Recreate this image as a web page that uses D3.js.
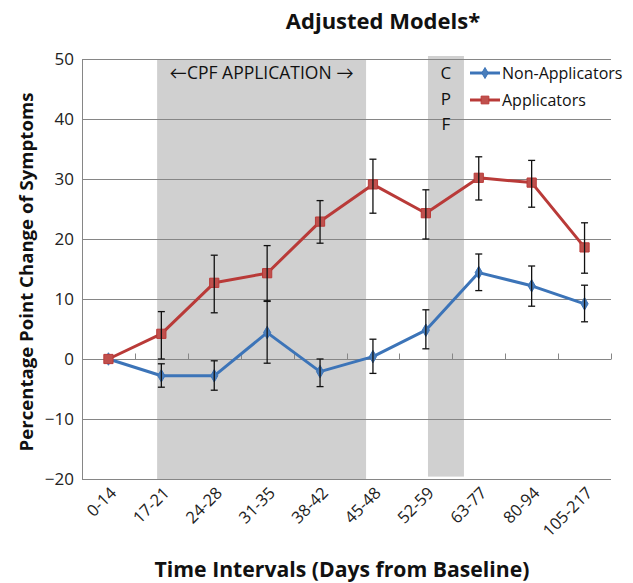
<!DOCTYPE html>
<html>
<head>
<meta charset="utf-8">
<script src="https://cdn.jsdelivr.net/npm/d3@7"></script>
<style>
  body { margin: 0; background: #fff; }
  text { font-family: "Open Sans", Lato, sans-serif; }
</style>
</head>
<body>
<div id="chart"></div>
<script>

var categories = ["0-14","17-21","24-28","31-35","38-42","45-48","52-59","63-77","80-94","105-217"];

var nonApplicators      = [0, -2.8, -2.8, 4.4, -2.1, 0.4, 4.8, 14.4, 12.2, 9.2];
var nonApplicatorsLow   = [0, -4.7, -5.2, -0.7, -4.6, -2.4, 1.7, 11.4, 8.8, 6.2];
var nonApplicatorsHigh  = [0, -0.8, -0.3, 9.7, 0.0, 3.3, 8.2, 17.5, 15.5, 12.3];

var applicators         = [0, 4.2, 12.7, 14.3, 22.9, 29.1, 24.3, 30.2, 29.4, 18.6];
var applicatorsLow      = [0, 0.0, 7.7, 9.6, 19.3, 24.3, 20.0, 26.5, 25.3, 14.3];
var applicatorsHigh     = [0, 7.9, 17.3, 18.9, 26.4, 33.3, 28.2, 33.7, 33.1, 22.7];

var yTicks = [-20, -10, 0, 10, 20, 30, 40, 50];

// shaded periods, in category units (0 = left edge of first interval)
var shadeFrom = [1.42, 6.54];
var shadeTo   = [5.37, 7.22];
var shadeTop  = [50, 50.5];
var shadeBot  = [-20, -19.6];

var svg = d3.select("#chart")
  .append("svg")
  .attr("width", 633)
  .attr("height", 583);

var margin = {top: 59, right: 22, bottom: 104, left: 82},
    width = 633 - margin.left - margin.right,
    height = 583 - margin.top - margin.bottom;

var x = d3.scaleBand()
    .domain(categories)
    .range([0, width]);

var xi = d3.scaleLinear()
    .domain([0, categories.length])
    .range([0, width]);

var y = d3.scaleLinear()
    .domain([-20, 50])
    .range([height, 0]);

var g = svg.append("g")
    .attr("transform", "translate(" + margin.left + "," + margin.top + ")");

var cx = function(i) { return x(categories[i]) + x.bandwidth() / 2; };

// shaded bands
g.selectAll(".shade")
    .data(shadeFrom)
  .enter().append("rect")
    .attr("class", "shade")
    .attr("x", function(d) { return xi(d); })
    .attr("width", function(d, i) { return xi(shadeTo[i]) - xi(d); })
    .attr("y", function(d, i) { return y(shadeTop[i]); })
    .attr("height", function(d, i) { return y(shadeBot[i]) - y(shadeTop[i]); })
    .style("fill", "#d0d0d0");

// gridlines
g.selectAll(".grid")
    .data(yTicks)
  .enter().append("line")
    .attr("class", "grid")
    .attr("x1", 0)
    .attr("x2", width)
    .attr("y1", function(d) { return y(d) + 0.5; })
    .attr("y2", function(d) { return y(d) + 0.5; })
    .style("stroke", "#868686")
    .style("stroke-width", 1);

// y axis
var yAxis = g.append("g")
    .attr("class", "axis axis--y")
    .call(d3.axisLeft(y).tickValues(yTicks).tickSize(0).tickPadding(8));
yAxis.select(".domain").style("stroke", "#868686").attr("d", "M0.5," + y(-20) + "V" + y(50));
yAxis.selectAll("text")
    .style("font-family", "'Open Sans', sans-serif")
    .style("font-size", "17px")
    .style("fill", "#222");

// x axis line at zero with upward ticks
var xAxis = g.append("g")
    .attr("class", "axis axis--x")
    .attr("transform", "translate(0," + (y(0) + 0.5) + ")");
xAxis.append("line")
    .attr("x1", 0).attr("x2", width)
    .style("stroke", "#868686");
xAxis.selectAll(".tick")
    .data(d3.range(1, categories.length + 1))
  .enter().append("line")
    .attr("x1", function(d) { return Math.round(xi(d)) + 0.5; })
    .attr("x2", function(d) { return Math.round(xi(d)) + 0.5; })
    .attr("y1", 0).attr("y2", -6)
    .style("stroke", "#868686");

// category labels at the bottom
g.selectAll(".xlabel")
    .data(categories)
  .enter().append("text")
    .attr("class", "xlabel")
    .attr("transform", function(d, i) { return "translate(" + (cx(i) + 9) + "," + (height + 15) + ") rotate(-45)"; })
    .style("text-anchor", "end")
    .style("font-size", "16.5px")
    .style("fill", "#222")
    .text(function(d) { return d; });

// series
var series = [
  {name: "Non-Applicators", values: nonApplicators, low: nonApplicatorsLow, high: nonApplicatorsHigh, color: "#3c74b8", marker: "diamond"},
  {name: "Applicators", values: applicators, low: applicatorsLow, high: applicatorsHigh, color: "#b93a38", marker: "square"}
];

var line = d3.line()
    .x(function(d, i) { return cx(i); })
    .y(function(d) { return y(d); });

series.forEach(function(s) {
  g.append("path")
      .datum(s.values)
      .attr("d", line)
      .style("fill", "none")
      .style("stroke", s.color)
      .style("stroke-width", 3)
      .style("stroke-linejoin", "round");
});

// markers
series.forEach(function(s) {
  var sym = s.marker == "square" ? d3.symbolSquare : d3.symbolDiamond;
  g.selectAll(".m-" + s.marker)
      .data(s.values)
    .enter().append("path")
      .attr("transform", function(d, i) { return "translate(" + cx(i) + "," + y(d) + ")"; })
      .attr("d", d3.symbol().type(sym).size(s.marker == "square" ? 85 : 45))
      .style("fill", s.marker == "square" ? "#c0504d" : "#4a7ebb")
      .style("stroke", s.color)
      .style("stroke-width", 1);
});

// error bars
series.forEach(function(s) {
  var eb = g.selectAll(".eb-" + s.marker)
      .data(s.values.map(function(v, i) { return i; }).filter(function(i) { return i > 0; }))
    .enter().append("g");
  eb.append("line")
      .attr("x1", function(i) { return cx(i); })
      .attr("x2", function(i) { return cx(i); })
      .attr("y1", function(i) { return y(s.low[i]); })
      .attr("y2", function(i) { return y(s.high[i]); });
  eb.append("line")
      .attr("x1", function(i) { return cx(i) - 3.5; })
      .attr("x2", function(i) { return cx(i) + 3.5; })
      .attr("y1", function(i) { return y(s.low[i]); })
      .attr("y2", function(i) { return y(s.low[i]); });
  eb.append("line")
      .attr("x1", function(i) { return cx(i) - 3.5; })
      .attr("x2", function(i) { return cx(i) + 3.5; })
      .attr("y1", function(i) { return y(s.high[i]); })
      .attr("y2", function(i) { return y(s.high[i]); });
  eb.selectAll("line")
      .style("stroke", "#111")
      .style("stroke-width", 1.3);
});

// band annotations
g.append("text")
    .attr("x", (xi(shadeFrom[0]) + xi(shadeTo[0])) / 2)
    .attr("y", y(46.6))
    .style("text-anchor", "middle")
    .style("font-size", "17.5px")
    .style("fill", "#111")
    .text("\u2190CPF APPLICATION \u2192");

g.selectAll(".cpf")
    .data(["C", "P", "F"])
  .enter().append("text")
    .attr("x", (xi(shadeFrom[1]) + xi(shadeTo[1])) / 2)
    .attr("y", function(d, i) { return y(46.6 - i * 4.2); })
    .style("text-anchor", "middle")
    .style("font-size", "17px")
    .style("fill", "#111")
    .text(function(d) { return d; });

// legend
var legend = svg.selectAll(".legend")
    .data(series)
  .enter().append("g")
    .attr("class", "legend")
    .attr("transform", function(d, i) { return "translate(470," + (73 + i * 27) + ")"; });

legend.append("line")
    .attr("x1", 0).attr("x2", 30)
    .style("stroke", function(d) { return d.color; })
    .style("stroke-width", 3);

legend.append("path")
    .attr("transform", "translate(15,0)")
    .attr("d", function(d) { return d3.symbol().type(d.marker == "square" ? d3.symbolSquare : d3.symbolDiamond).size(d.marker == "square" ? 60 : 35)(); })
    .style("fill", function(d) { return d.marker == "square" ? "#c0504d" : "#4a7ebb"; })
    .style("stroke", function(d) { return d.color; });

legend.append("text")
    .attr("x", 32)
    .attr("dy", "0.35em")
    .style("font-size", "16px")
    .style("fill", "#111")
    .text(function(d) { return d.name; });

// titles
svg.append("text")
    .attr("x", 383)
    .attr("y", 29)
    .style("text-anchor", "middle")
    .style("font-size", "22px")
    .style("font-weight", "bold")
    .style("fill", "#111")
    .text("Adjusted Models*");

svg.append("text")
    .attr("transform", "translate(33,272) rotate(-90)")
    .style("text-anchor", "middle")
    .style("font-size", "18.6px")
    .style("font-weight", "bold")
    .style("fill", "#111")
    .text("Percentage Point Change of Symptoms");

svg.append("text")
    .attr("x", 342)
    .attr("y", 577)
    .style("text-anchor", "middle")
    .style("font-size", "21.2px")
    .style("font-weight", "bold")
    .style("fill", "#111")
    .text("Time Intervals (Days from Baseline)");

</script>
</body>
</html>
